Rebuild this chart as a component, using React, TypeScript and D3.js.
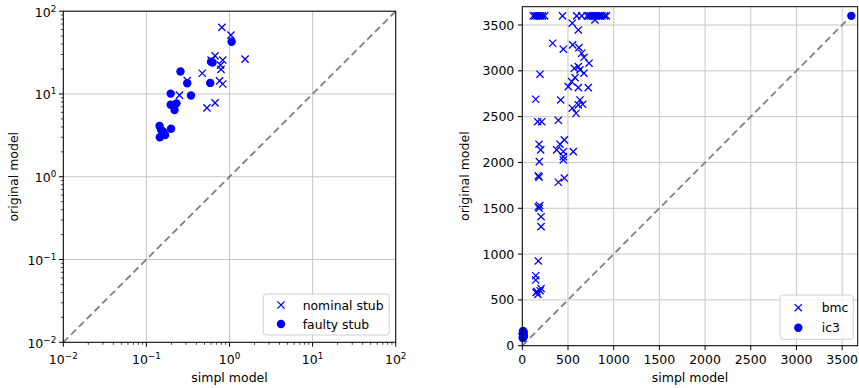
import React from 'react';
import * as d3 from 'd3';

// left panel: stub runtimes (log-log)
const nominalStub: [number, number][] = [
  [0.81, 63.7], [1.04, 51.4], [1.54, 26.4], [0.67, 28.9], [0.6, 25.7], [0.83, 25.7],
  [0.78, 22.3], [0.79, 19.8], [0.76, 14.4], [0.83, 13.2], [0.47, 17.8], [0.31, 14.5],
  [0.25, 9.7], [0.535, 6.8], [0.67, 7.8],
];
const faultyStub: [number, number][] = [
  [1.06, 42.7], [0.257, 18.7], [0.625, 24.0], [0.6, 24.5], [0.31, 13.5], [0.586, 13.6],
  [0.344, 9.6], [0.196, 10.1], [0.196, 7.4], [0.23, 7.7], [0.218, 6.4], [0.144, 4.1],
  [0.198, 3.8], [0.16, 3.5], [0.145, 3.0], [0.168, 3.2], [0.15, 3.7],
];

// right panel: bmc / ic3 runtimes (linear)
const bmc: [number, number][] = [
  [120, 3600], [140, 3600], [160, 3600], [180, 3600], [200, 3600], [220, 3600], [245, 3600],
  [440, 3600], [595, 3600], [650, 3600], [710, 3600], [730, 3600], [750, 3600], [770, 3600],
  [790, 3600], [810, 3600], [830, 3600], [850, 3600], [870, 3600], [900, 3600], [920, 3600],
  [795, 3556], [547, 3520], [613, 3446], [332, 3301], [449, 3236], [551, 3283], [620, 3253],
  [650, 3192], [675, 3148], [730, 3083], [569, 3028], [613, 3046], [631, 3010], [675, 2974],
  [194, 2963], [577, 2926], [540, 2882], [503, 2828], [613, 2817], [722, 2817], [147, 2690],
  [420, 2682], [631, 2682], [661, 2635], [613, 2628], [547, 2592], [588, 2537], [168, 2445],
  [212, 2445], [394, 2460], [460, 2246], [183, 2199], [201, 2137], [412, 2199], [376, 2137],
  [449, 2118], [558, 2118], [449, 2063], [186, 2009], [449, 2027], [175, 1853], [183, 1840],
  [460, 1830], [394, 1784], [175, 1515], [190, 1530], [185, 1500], [205, 1408], [205, 1299],
  [175, 925], [147, 764], [147, 717], [150, 580], [170, 560], [195, 600], [205, 625], [160, 590],
];
const ic3: [number, number][] = [
  [5, 90], [10, 120], [15, 150], [8, 160], [18, 100], [12, 140], [3, 130], [16, 110], [6, 85],
  [3600, 3600],
];

const logTicks = [1e-2, 1e-1, 1, 10, 100];
const logExps = ['\u22122', '\u22121', '0', '1', '2'];
const linTicks = [0, 500, 1000, 1500, 2000, 2500, 3000, 3500];

const FONT = 'DejaVu Sans, sans-serif';
const BLUE = '#0000ff';
const GRID = '#c8c8c8';

const minorLog: number[] = [];
for (let e = -2; e < 2; e++) for (let k = 2; k <= 9; k++) minorLog.push(k * Math.pow(10, e));

const Cross = ({ x, y }: { x: number; y: number }) => (
  <path d={`M${x - 3.6},${y - 3.6}L${x + 3.6},${y + 3.6}M${x - 3.6},${y + 3.6}L${x + 3.6},${y - 3.6}`}
    stroke={BLUE} strokeWidth={1.3} fill="none" />
);

const Pow = ({ e }: { e: string }) => (
  <>
    10<tspan dy={-5} fontSize={8.8}>{e}</tspan>
  </>
);

export default function App() {
  const xL = d3.scaleLog().domain([1e-2, 1e2]).range([63.3, 395.7]);
  const yL = d3.scaleLog().domain([1e-2, 1e2]).range([342.3, 11.2]);
  const xR = d3.scaleLinear().domain([0, 3670]).range([522.3, 857.7]);
  const yR = d3.scaleLinear().domain([0, 3700]).range([345.7, 6.7]);

  const [l0, l1] = xL.range();
  const [lb, lt] = yL.range();
  const [r0, r1] = xR.range();
  const [rb, rt] = yR.range();

  const diagL = d3.line<number>().x(v => xL(v)).y(v => yL(v))([1e-2, 1e2]) || '';
  const diagR = d3.line<number>().x(v => xR(v)).y(v => yR(v))([0, 3600]) || '';

  return (
    <div style={{ position: 'fixed', left: 0, top: 0 }}>
      <svg width={859} height={388} style={{ display: 'block', background: '#fff' }} fontFamily={FONT}>
        {/* ---- left panel ---- */}
        <g>
          {logTicks.map(t => (
            <g key={'lg' + t}>
              <line x1={xL(t)} x2={xL(t)} y1={lb} y2={lt} stroke={GRID} strokeWidth={1} />
              <line x1={l0} x2={l1} y1={yL(t)} y2={yL(t)} stroke={GRID} strokeWidth={1} />
            </g>
          ))}
          <path d={diagL} stroke="#808080" strokeWidth={1.8} strokeDasharray="7,4" fill="none" />
          {nominalStub.map((d, i) => <Cross key={'n' + i} x={xL(d[0])} y={yL(d[1])} />)}
          {faultyStub.map((d, i) => <circle key={'f' + i} cx={xL(d[0])} cy={yL(d[1])} r={4.2} fill={BLUE} />)}
          <rect x={l0} y={lt} width={l1 - l0} height={lb - lt} fill="none" stroke="#000" strokeWidth={1} />
          {minorLog.map(t => (
            <g key={'lm' + t}>
              <line x1={xL(t)} x2={xL(t)} y1={lb} y2={lb + 2.5} stroke="#000" strokeWidth={0.7} />
              <line x1={l0 - 2.5} x2={l0} y1={yL(t)} y2={yL(t)} stroke="#000" strokeWidth={0.7} />
            </g>
          ))}
          {logTicks.map((t, i) => (
            <g key={'lt' + t} fontSize={12.5} fill="#000">
              <line x1={xL(t)} x2={xL(t)} y1={lb} y2={lb + 4.4} stroke="#000" />
              <line x1={l0 - 4.4} x2={l0} y1={yL(t)} y2={yL(t)} stroke="#000" />
              <text x={xL(t)} y={lb + 22} textAnchor="middle"><Pow e={logExps[i]} /></text>
              <text x={l0 - 7} y={yL(t) + 5.5} textAnchor="end"><Pow e={logExps[i]} /></text>
            </g>
          ))}
          <text x={(l0 + l1) / 2} y={382} textAnchor="middle" fontSize={12.5}>simpl model</text>
          <text transform={`translate(17.5,${(lb + lt) / 2}) rotate(-90)`} textAnchor="middle" fontSize={12.5}>original model</text>
          <g>
            <rect x={263.3} y={294} width={126} height={41} rx={3} fill="#fff" fillOpacity={0.8} stroke="#d0d0d0" />
            <Cross x={281} y={305} />
            <text x={302.7} y={309.5} fontSize={12.4}>nominal stub</text>
            <circle cx={281} cy={324} r={4.2} fill={BLUE} />
            <text x={302.7} y={328.5} fontSize={12.4}>faulty stub</text>
          </g>
        </g>

        {/* ---- right panel ---- */}
        <g>
          {linTicks.map(t => (
            <g key={'rg' + t}>
              <line x1={xR(t)} x2={xR(t)} y1={rb} y2={rt} stroke={GRID} strokeWidth={1} />
              <line x1={r0} x2={r1} y1={yR(t)} y2={yR(t)} stroke={GRID} strokeWidth={1} />
            </g>
          ))}
          <path d={diagR} stroke="#808080" strokeWidth={1.8} strokeDasharray="7,4" fill="none" />
          {bmc.map((d, i) => <Cross key={'b' + i} x={xR(d[0])} y={yR(d[1])} />)}
          {ic3.map((d, i) => <circle key={'c' + i} cx={xR(d[0])} cy={yR(d[1])} r={4.2} fill={BLUE} />)}
          <rect x={r0} y={rt} width={r1 - r0} height={rb - rt} fill="none" stroke="#000" strokeWidth={1} />
          {linTicks.map(t => (
            <g key={'rt' + t} fontSize={12.5} fill="#000">
              <line x1={xR(t)} x2={xR(t)} y1={rb} y2={rb + 4.4} stroke="#000" />
              <line x1={r0 - 4.4} x2={r0} y1={yR(t)} y2={yR(t)} stroke="#000" />
              <text x={xR(t)} y={rb + 18} textAnchor="middle">{t}</text>
              <text x={r0 - 8} y={yR(t) + 4.5} textAnchor="end">{t}</text>
            </g>
          ))}
          <text x={(r0 + r1) / 2} y={382} textAnchor="middle" fontSize={12.5}>simpl model</text>
          <text transform={`translate(469,${(rb + rt) / 2}) rotate(-90)`} textAnchor="middle" fontSize={12.5}>original model</text>
          <g>
            <rect x={780} y={295} width={73.3} height={44.3} rx={3} fill="#fff" fillOpacity={0.8} stroke="#d0d0d0" />
            <Cross x={798.3} y={307.7} />
            <text x={821.7} y={312.2} fontSize={12.4}>bmc</text>
            <circle cx={798.3} cy={327.7} r={4.2} fill={BLUE} />
            <text x={821.7} y={332.2} fontSize={12.4}>ic3</text>
          </g>
        </g>
      </svg>
    </div>
  );
}
